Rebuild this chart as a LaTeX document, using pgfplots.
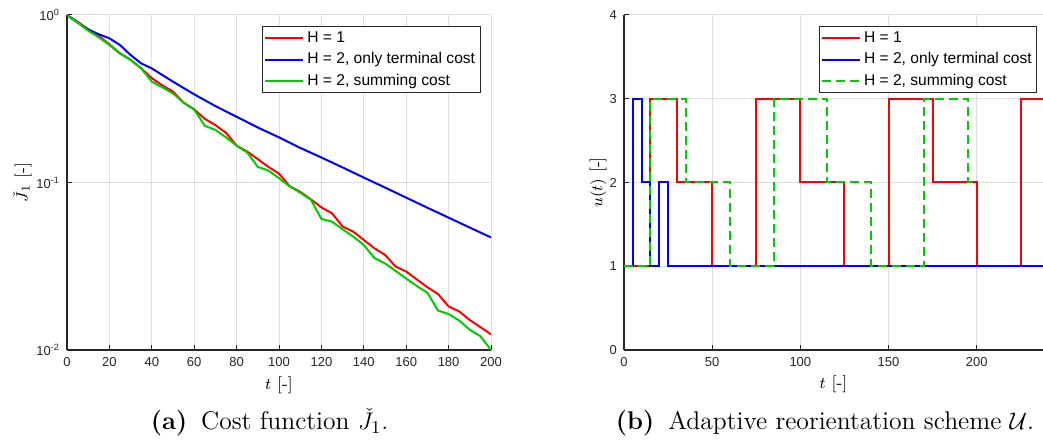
\documentclass[border=0pt]{standalone}
\usepackage{pgfplots}
\pgfplotsset{compat=1.18}
\usepackage{fontspec}
\newfontfamily\msans{Liberation Sans}
\definecolor{mred}{rgb}{1,0,0}
\definecolor{mblue}{rgb}{0,0,1}
\definecolor{mgreen}{rgb}{0,0.8,0}
\definecolor{axgray}{rgb}{0.15,0.15,0.15}
\definecolor{gridgray}{rgb}{0.87,0.87,0.87}
\pgfplotsset{
  mstyle/.style={
    scale only axis,
    axis lines=left,
    axis line style={-, axgray, line width=0.6pt},
    tick align=inside,
    major tick length=2.5pt,
    minor tick length=1.5pt,
    tick style={axgray, line width=0.5pt},
    ticklabel style={font=\msans\fontsize{6.5}{7.5}\selectfont, text=axgray},
    /pgf/number format/assume math mode=true,
    grid=major,
    major grid style={gridgray, line width=0.5pt},
    label style={font=\fontsize{8.5}{10}\selectfont},
    legend cell align=left,
    legend style={font=\msans\fontsize{7.8}{9}\selectfont, draw=axgray, line width=0.5pt, fill=white,
      inner xsep=1pt, inner ysep=0.5pt,
      nodes={inner sep=1.5pt, text height=6pt, text depth=1.7pt}},
    legend image code/.code={\draw[#1] (0pt,0pt) -- (19pt,0pt);},
    every axis plot/.append style={line width=1pt},
  },
}
\begin{document}
\begin{tikzpicture}
\useasboundingbox (0,0) rectangle (521.5pt,221.5pt);
% ---------------- (a) ----------------
\begin{axis}[mstyle,
  at={(33.5pt,46.5pt)}, anchor=south west,
  width=212pt, height=167.5pt,
  ymode=log, log basis y=10,
  xmin=0, xmax=200, ymin=0.01, ymax=1,
  xtick={0,20,...,200},
  ytick={0.01,0.1,1},
  yticklabels={10\textsuperscript{-2},10\textsuperscript{-1},10\textsuperscript{0}},
  yminorgrids=true,
  minor grid style={gridgray!90!black, dash pattern=on 0.6pt off 2pt, line width=0.5pt},
  xlabel={$t$ [-]},
  ylabel={$\check{J}_1$ [-]},
  xlabel style={at={(axis description cs:0.5,0)}, anchor=base, yshift=-19.5pt},
  ylabel style={at={(axis description cs:-0.105,0.5)}, anchor=center},
  legend style={at={(1,1)}, anchor=north east, xshift=-5.2pt, yshift=-5.5pt},
]
\addplot[mred] coordinates {
(0,1.0)(5,0.913)(10,0.82)(15,0.75)(20,0.668)(25,0.59)(30,0.54)(35,0.48)(40,0.42)(45,0.38)
(50,0.349)(55,0.30)(60,0.273)(65,0.24)(70,0.22)(75,0.198)(80,0.166)(85,0.153)(90,0.138)(95,0.124)
(100,0.113)(105,0.095)(110,0.088)(115,0.0794)(120,0.071)(125,0.0655)(130,0.0546)(135,0.0509)(140,0.0454)(145,0.0405)
(150,0.037)(155,0.0315)(160,0.0294)(165,0.0264)(170,0.0237)(175,0.0216)(180,0.0182)(185,0.017)(190,0.0151)(195,0.0137)
(200,0.0124)};
\addlegendentry{H = 1}
\addplot[mblue] coordinates {
(0,1.0)(5,0.90)(10,0.82)(15,0.767)(20,0.726)(25,0.662)(30,0.577)(35,0.514)(40,0.48)(45,0.438)
(50,0.40)(60,0.336)(70,0.286)(80,0.247)(90,0.213)(100,0.186)(110,0.161)(120,0.141)(130,0.123)(140,0.107)
(150,0.0933)(160,0.0812)(170,0.0707)(180,0.0617)(190,0.0538)(200,0.0470)};
\addlegendentry{H = 2, only terminal cost}
\addplot[mgreen] coordinates {
(0,1.0)(5,0.904)(10,0.806)(15,0.736)(20,0.662)(25,0.59)(30,0.54)(35,0.48)(40,0.40)(45,0.37)
(50,0.34)(55,0.30)(60,0.273)(65,0.218)(70,0.206)(75,0.186)(80,0.166)(85,0.151)(90,0.124)(95,0.118)
(100,0.106)(105,0.095)(110,0.087)(115,0.079)(120,0.0606)(125,0.0584)(130,0.0526)(135,0.0476)(140,0.0424)(145,0.0354)
(150,0.0329)(155,0.0297)(160,0.0267)(165,0.0241)(170,0.022)(175,0.0172)(180,0.0164)(185,0.015)(190,0.0132)(195,0.0121)
(200,0.0100)};
\addlegendentry{H = 2, summing cost}
\end{axis}
% ---------------- (b) ----------------
\begin{axis}[mstyle,
  at={(312pt,46.5pt)}, anchor=south west,
  width=209.5pt, height=167.5pt,
  xmin=0, xmax=237.6, ymin=0, ymax=4,
  xtick={0,50,...,200},
  ytick={0,1,2,3,4},
  xlabel={$t$ [-]},
  ylabel={$u(t)$ [-]},
  xlabel style={at={(axis description cs:0.5,0)}, anchor=base, yshift=-19.5pt},
  ylabel style={at={(axis description cs:-0.062,0.5)}, anchor=center},
  legend style={at={(1,1)}, anchor=north east, xshift=-2.85pt, yshift=-5.5pt},
]
\addplot[mred, const plot] coordinates {
(0,1)(15,3)(30,2)(50,1)(75,3)(100,2)(125,1)(150,3)(175,2)(200,1)(225,3)(240,3)};
\addlegendentry{H = 1}
\addplot[mblue, const plot] coordinates {
(0,1)(5,3)(10,2)(15,1)(20,2)(25,1)(240,1)};
\addlegendentry{H = 2, only terminal cost}
\addplot[mgreen, const plot, dash pattern=on 4.5pt off 2.5pt] coordinates {
(0,1)(15,3)(35,2)(60,1)(85,3)(115,2)(140,1)(170,3)(195,2)(200,2)};
\addlegendentry{H = 2, summing cost}
\end{axis}
% captions
\node[anchor=base, font=\fontsize{12.8}{15}\selectfont] at (134.75pt,6.5pt)
  {\textbf{(a)}\hspace{7pt}Cost function $\check{J}_1$.};
\node[anchor=base, font=\fontsize{12.8}{15}\selectfont] at (412.5pt,6.5pt)
  {\textbf{(b)}\hspace{7pt}Adaptive reorientation scheme $\mathcal{U}$.};
\end{tikzpicture}
\end{document}
